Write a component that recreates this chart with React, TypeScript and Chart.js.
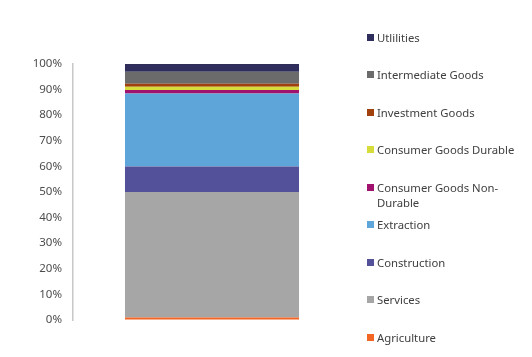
import React, { useEffect, useRef } from "react";
import { Chart, registerables } from "chart.js";

Chart.register(...registerables);

const categories = ["Share"];
const seriesNames = [
  "Agriculture",
  "Services",
  "Construction",
  "Extraction",
  "Consumer Goods Non-Durable",
  "Consumer Goods Durable",
  "Investment Goods",
  "Intermediate Goods",
  "Utlilities",
];
const seriesValues = [1, 49, 10, 28.5, 1.3, 1.3, 1.2, 4.7, 3];
const seriesColors = [
  "#f26522",
  "#a6a6a6",
  "#525199",
  "#5ea5da",
  "#a0126e",
  "#d6dc3a",
  "#a0410d",
  "#6b6b6b",
  "#2e2d5c",
];
const yTicks = [0, 10, 20, 30, 40, 50, 60, 70, 80, 90, 100];

const FONT = "'Noto Sans', 'Open Sans', sans-serif";

export default function App() {
  const ref = useRef<HTMLCanvasElement | null>(null);

  useEffect(() => {
    if (!ref.current) return;
    const chart = new Chart(ref.current, {
      type: "bar",
      data: {
        labels: categories,
        datasets: seriesNames.map((name, i) => ({
          label: name,
          data: [seriesValues[i]],
          backgroundColor: seriesColors[i],
          borderWidth: 0,
          categoryPercentage: 1,
          barPercentage: 0.626,
        })),
      },
      options: {
        animation: false,
        responsive: false,
        maintainAspectRatio: false,
        layout: { padding: { left: 8, right: 181, top: 64, bottom: 37 } },
        plugins: { legend: { display: false }, tooltip: { enabled: false } },
        scales: {
          x: { stacked: true, display: false },
          y: {
            stacked: true,
            min: 0,
            max: 100,
            afterFit: (s: any) => {
              s.width = 65;
            },
            afterBuildTicks: (s: any) => {
              s.ticks = yTicks.map((v) => ({ value: v }));
            },
            grid: { color: "transparent", drawTicks: false },
            border: { display: true, color: "#c8c8c8", width: 1.5 },
            ticks: {
              padding: 11,
              color: "#4d4d4d",
              font: { family: FONT, size: 11.5 },
              callback: (v: any) => v + "%",
            },
          },
        },
      },
    });
    return () => chart.destroy();
  }, []);

  const legendItems = seriesNames
    .map((name, i) => ({ name, color: seriesColors[i] }))
    .reverse();

  return (
    <div
      style={{
        position: "fixed",
        left: 0,
        top: 0,
        width: 532,
        height: 357,
        background: "#fff",
      }}
    >
      <canvas ref={ref} width={532} height={357} style={{ display: "block" }} />
      {legendItems.map((it, i) => (
        <div
          key={it.name}
          style={{
            position: "absolute",
            left: 367,
            top: 37.3 + 37.5 * i - 7.5,
            display: "flex",
            alignItems: "flex-start",
            fontFamily: FONT,
            fontSize: 11.3,
            lineHeight: "15px",
            color: "#404040",
          }}
        >
          <span
            style={{
              width: 7,
              height: 7,
              background: it.color,
              marginTop: 4,
              marginRight: 3,
              flex: "none",
            }}
          />
          <span style={{ width: 152 }}>{it.name}</span>
        </div>
      ))}
    </div>
  );
}
